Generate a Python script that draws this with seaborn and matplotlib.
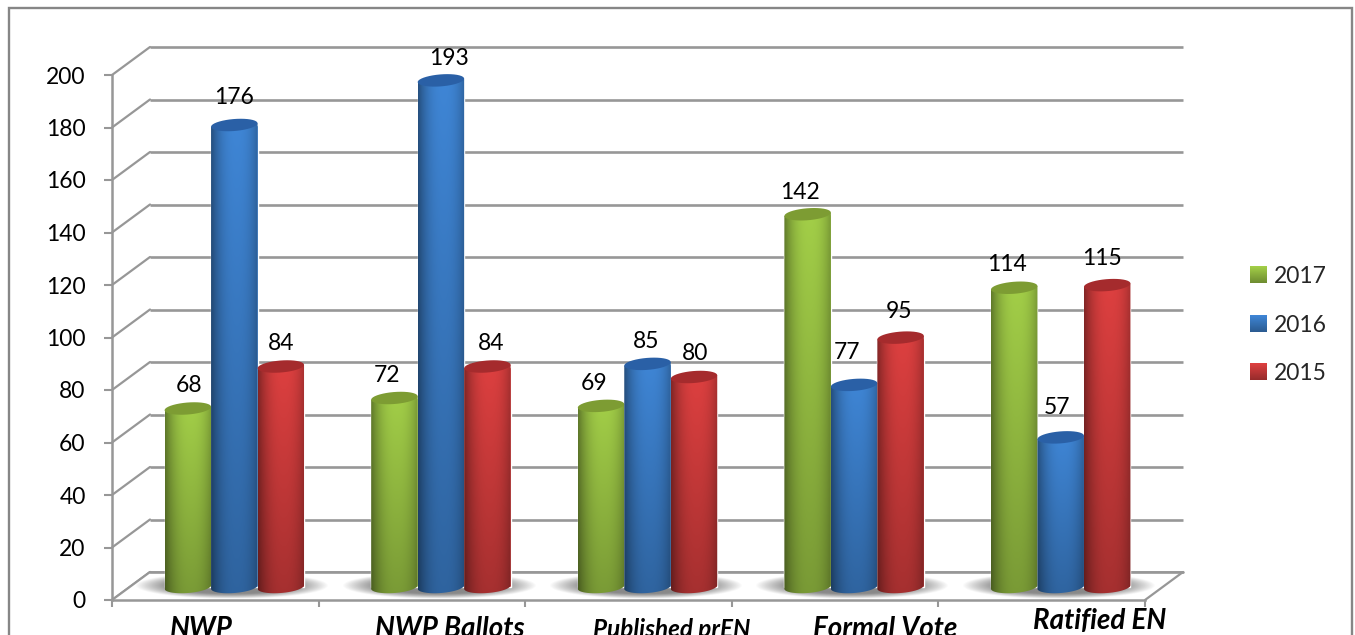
import numpy as np
import pandas as pd
import matplotlib
matplotlib.use("Agg")
import matplotlib.pyplot as plt
import seaborn as sns
from matplotlib.path import Path
from matplotlib.patches import Polygon, Rectangle
from matplotlib.transforms import ScaledTranslation, IdentityTransform

categories = ["NWP", "NWP Ballots", "Published prEN", "Formal Vote", "Ratified EN"]
years = ["2017", "2016", "2015"]
values_2017 = [68, 72, 69, 142, 114]
values_2016 = [176, 193, 85, 77, 57]
values_2015 = [84, 84, 80, 95, 115]
y_ticks = list(range(0, 201, 20))

W, H, DPI = 1355, 635, 100
GRID = "#979797"
mid_colors = {"2017": "#a3cf48", "2016": "#3f86d6", "2015": "#de4040"}
cap_colors = {"2017": "#7d9c33", "2016": "#2a60a6", "2015": "#a52b2d"}

# placement tweaks in pixels
value_dx = [[1, -7, -7, -8, -7], [0, 8, -1, -7, -4], [0, 4, 1, -2, -5]]
value_dy = [23, 23, 22, 22, 23, 28, 22, 22, 32, 30, 23, 23, 23, 26, 27]
label_dx = [-14, 28, 43, 50, 58]
label_dy = [0, 0, 0, 0, 8]
label_size = [20, 20, 17.5, 20, 20]

sns.set_theme(style="white")
plt.rcParams["font.family"] = ["Lato", "DejaVu Sans"]

fig = plt.figure(figsize=(W / DPI, H / DPI), dpi=DPI)
L, R, T, B = 112, 1145, 75, 600
ax = fig.add_axes([L / W, 1 - B / H, (R - L) / W, (B - T) / H])

df = pd.DataFrame({
    "category": categories * 3,
    "year": np.repeat(years, 5),
    "value": values_2017 + values_2016 + values_2015,
})
sns.barplot(data=df, x="category", y="value", hue="year", hue_order=years,
            palette=mid_colors, width=0.675, saturation=1, ax=ax, zorder=4, errorbar=None)

ax.set_xlim(-0.5, 4.5)
ax.set_ylim(0, 200)
sx = 5 / (R - L)
sy = 200 / (B - T)


def px(dx, dy):
    return ScaledTranslation(dx / DPI, -dy / DPI, fig.dpi_scale_trans)


mid = ax.transData + px(19, -13)
back_dx, back_dy = 38 * sx, 28 * sy

# walls and floor
for v in y_ticks:
    ax.plot([-0.5, -0.5 + back_dx], [v, v + back_dy], color=GRID, lw=1.6, clip_on=False, zorder=1)
    ax.plot([-0.5 + back_dx, 4.5 + back_dx], [v + back_dy] * 2, color=GRID, lw=1.9,
            clip_on=False, zorder=1, solid_capstyle="butt")
ax.add_patch(Polygon([[-0.5, 0], [-0.5 + back_dx, back_dy], [4.5 + back_dx, back_dy], [4.5, 0]],
                     closed=True, fc="white", ec="none", clip_on=False, zorder=1.5))
ax.plot([-0.5 + back_dx, 4.5 + back_dx], [back_dy] * 2, color=GRID, lw=1.9, clip_on=False, zorder=1.6)
ax.plot([-0.5, -0.5 + back_dx], [0, back_dy], color=GRID, lw=1.6, clip_on=False, zorder=1.6)
ax.plot([4.5, 4.5 + back_dx], [0, back_dy], color=GRID, lw=1.6, clip_on=False, zorder=1.6)

# floor shadows
gx, gy = np.meshgrid(np.linspace(-1, 1, 200), np.linspace(-1, 1, 40))
fall = np.clip(1 - (gx ** 2 + gy ** 2), 0, 1)
shadow = np.zeros(gx.shape + (4,))
shadow[..., :3] = 0.42
shadow[..., 3] = np.clip(fall * 1.3, 0, 0.8)
for i in range(5):
    ax.imshow(shadow, extent=[i - 80 * sx, i + 114 * sx, 1 * sy, 28 * sy],
              aspect="auto", zorder=1.7, clip_on=False, interpolation="bilinear")

# cylinders


def shade(color, h_px):
    base = np.array(matplotlib.colors.to_rgb(color))
    u = np.linspace(0, 1, 60)
    v = np.linspace(0, 1, max(int(h_px), 2))
    prof = 1 - 0.40 * np.abs((u - 0.55) / 0.55) ** 2.4
    fade = 1 - 0.26 * v
    img = np.ones((len(v), len(u), 4))
    for c in range(3):
        img[..., c] = np.clip(base[c] * np.outer(fade, prof), 0, 1)
    return img


HALF_E = 6.0
TILT = 0.075
for yr_i, (yr, cont) in enumerate(zip(years, ax.containers)):
    for bar in cont:
        bar.set_transform(mid)
        bar.set_clip_on(False)
        x0, w, h = bar.get_x(), bar.get_width(), bar.get_height()
        xc = x0 + w / 2
        t = np.linspace(0, np.pi, 40)
        ex = xc - (w / 2) * np.cos(t)
        tilt_y = (ex - xc) / sx * TILT * sy
        lower = np.column_stack([ex, -HALF_E * sy * np.sin(t) + tilt_y])
        top = [[x0 + w, h + w / 2 / sx * TILT * sy], [x0, h - w / 2 / sx * TILT * sy]]
        outline = np.vstack([lower, top, lower[:1]])
        im = ax.imshow(shade(mid_colors[yr], h / sy), extent=[x0, x0 + w, -12 * sy, h + 6 * sy],
                       aspect="auto", transform=mid, zorder=4.1 + yr_i * 0.1,
                       interpolation="bilinear", clip_on=True)
        im.set_clip_path(Path(outline), transform=mid)
        cap = np.column_stack([
            xc + (w / 2) * np.cos(2 * t),
            h + HALF_E * sy * np.sin(2 * t) + (w / 2) * np.cos(2 * t) / sx * TILT * sy,
        ])
        ax.add_patch(Polygon(cap, closed=True, fc=cap_colors[yr], ec="none", transform=mid,
                             clip_on=False, zorder=4.15 + yr_i * 0.1))

# value labels
n = 0
for s, cont in enumerate(ax.containers):
    for c, bar in enumerate(cont):
        ax.annotate(f"{int(bar.get_height())}",
                    xy=(bar.get_x() + bar.get_width() / 2, bar.get_height() + 13 * sy),
                    xytext=((value_dx[s][c] + 19) * 72 / DPI, value_dy[n] * 72 / DPI),
                    textcoords="offset points", ha="center", va="center",
                    fontsize=16.5, color="black", annotation_clip=False, zorder=6)
        n += 1

ax.set_ylim(0, 200)
ax.set_xlim(-0.5, 4.5)

# axes
ax.set_xlabel("")
ax.set_ylabel("")
ax.set_facecolor("none")
for sp in ["top", "right"]:
    ax.spines[sp].set_visible(False)
for sp in ["left", "bottom"]:
    ax.spines[sp].set_color(GRID)
    ax.spines[sp].set_linewidth(1.8)
    ax.spines[sp].set_zorder(3)
ax.set_yticks(y_ticks)
ax.set_xticks(range(5))
ax.set_xticklabels(categories)
ax.set_xticks(np.arange(-0.5, 4.6, 1), minor=True)
ax.tick_params(axis="y", left=True, length=5.5, width=1.5, color=GRID, labelsize=16.5, pad=13.5,
               labelcolor="black")
ax.tick_params(axis="x", which="major", bottom=False, pad=0, labelsize=20, labelcolor="black")
ax.tick_params(axis="x", which="minor", bottom=True, length=5, width=1.5, color=GRID)
for lab, dx, dy, size in zip(ax.get_xticklabels(), label_dx, label_dy, label_size):
    lab.set_fontweight("bold")
    lab.set_fontstyle("italic")
    lab.set_fontsize(size)
    lab.set_verticalalignment("center")
    lab.set_transform(lab.get_transform() + px(dx, 21 - dy))

# legend
handles, labels = ax.get_legend_handles_labels()
leg = ax.legend(handles, labels, loc="center left", frameon=False, fontsize=16.5,
                bbox_to_anchor=(1250 / W, 1 - 325 / H), bbox_transform=fig.transFigure,
                handlelength=0.72, handleheight=0.72, handletextpad=0.32,
                labelspacing=1.2, borderpad=0, borderaxespad=0)
fig.canvas.draw()
for yr, patch in zip(years, leg.get_patches()):
    bb = patch.get_window_extent()
    base = np.array(matplotlib.colors.to_rgb(mid_colors[yr]))
    img = np.ones((20, 2, 4))
    fade = np.linspace(1.0, 0.68, 20)
    for c in range(3):
        img[:, :, c] = (base[c] * fade)[:, None]
    ax.imshow(img, extent=[bb.x0, bb.x1, bb.y0, bb.y1], transform=IdentityTransform(),
              aspect="auto", zorder=8, clip_on=False, interpolation="bilinear")
ax.set_ylim(0, 200)
ax.set_xlim(-0.5, 4.5)

# chart frame
fig.add_artist(Rectangle((9 / W, -0.1), (1352 - 9) / W, 1.1 - 8 / H, transform=fig.transFigure,
                         fc="none", ec="#868686", lw=1.7))

fig.savefig("out.png", dpi=DPI, facecolor="white")
